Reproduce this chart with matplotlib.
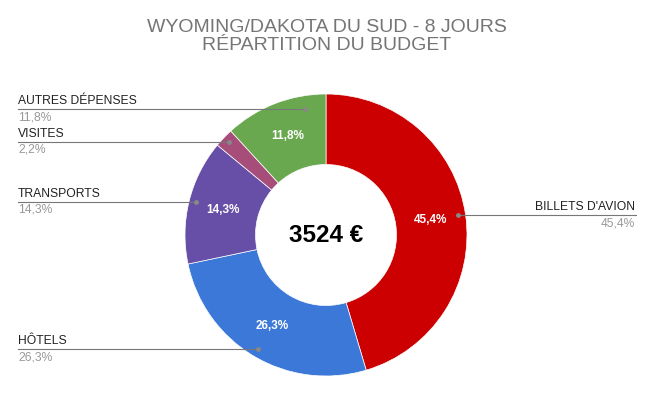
import numpy as np
import matplotlib.pyplot as plt

plt.rcParams['font.family'] = ['Liberation Sans', 'DejaVu Sans']

categories = ["BILLETS D'AVION", "HÔTELS", "TRANSPORTS", "VISITES", "AUTRES DÉPENSES"]
values = [45.4, 26.3, 14.3, 2.2, 11.8]
pct_labels = ["45,4%", "26,3%", "14,3%", "2,2%", "11,8%"]
colors = ["#cc0000", "#3c78d8", "#674ea7", "#a64d79", "#6aa84f"]
total = "3524 €"

W, H = 654, 393
fig = plt.figure(figsize=(W / 100, H / 100), dpi=100)
ax = fig.add_axes([0, 0, 1, 1])

cx, cy, R = 326, H - 235, 141
wedges, _ = ax.pie(values, colors=colors, startangle=90, counterclock=False,
                   center=(cx, cy), radius=R, frame=True,
                   wedgeprops=dict(width=R * 0.5, edgecolor='white', linewidth=0.5))
ax.set_xlim(0, W)
ax.set_ylim(0, H)
ax.set_aspect('equal')
ax.axis('off')

# inner percentage labels
for w, p, v in zip(wedges, pct_labels, values):
    if v < 5:
        continue
    a = np.deg2rad((w.theta1 + w.theta2) / 2)
    ax.text(cx + 0.75 * R * np.cos(a), cy + 0.75 * R * np.sin(a), p,
            color='white', fontsize=8.5, fontweight='bold', ha='center', va='center')

ax.text(cx, cy, total, fontsize=17.5, fontweight='bold', ha='center', va='center')

# leader lines: (label y in px, dot x in px, side)
leaders = [(215, 458, 'right'), (349, 258, 'left'), (202, 196, 'left'),
           (142, 229, 'left'), (109, 305, 'left')]
for (ly, dx, side), name, p in zip(leaders, categories, pct_labels):
    y = H - ly
    if side == 'right':
        ax.plot([dx, 636], [y, y], color='#777777', lw=0.8)
        ax.plot(dx, y, 'o', color='#888888', ms=2.5)
        ax.text(635, y + 2, name, fontsize=8.7, color='#222222', ha='right', va='bottom')
        ax.text(635, y - 2, p, fontsize=8.7, color='#999999', ha='right', va='top')
    else:
        ax.plot([18, dx], [y, y], color='#777777', lw=0.8)
        ax.plot(dx, y, 'o', color='#888888', ms=2.5)
        ax.text(18, y + 2, name, fontsize=8.7, color='#222222', ha='left', va='bottom')
        ax.text(18, y - 2, p, fontsize=8.7, color='#999999', ha='left', va='top')

ax.text(327, H - 28, "WYOMING/DAKOTA DU SUD - 8 JOURS", fontsize=14, color='#757575',
        ha='center', va='center')
ax.text(327, H - 45, "RÉPARTITION DU BUDGET", fontsize=14, color='#757575',
        ha='center', va='center')

fig.savefig('out.png', dpi=100)
